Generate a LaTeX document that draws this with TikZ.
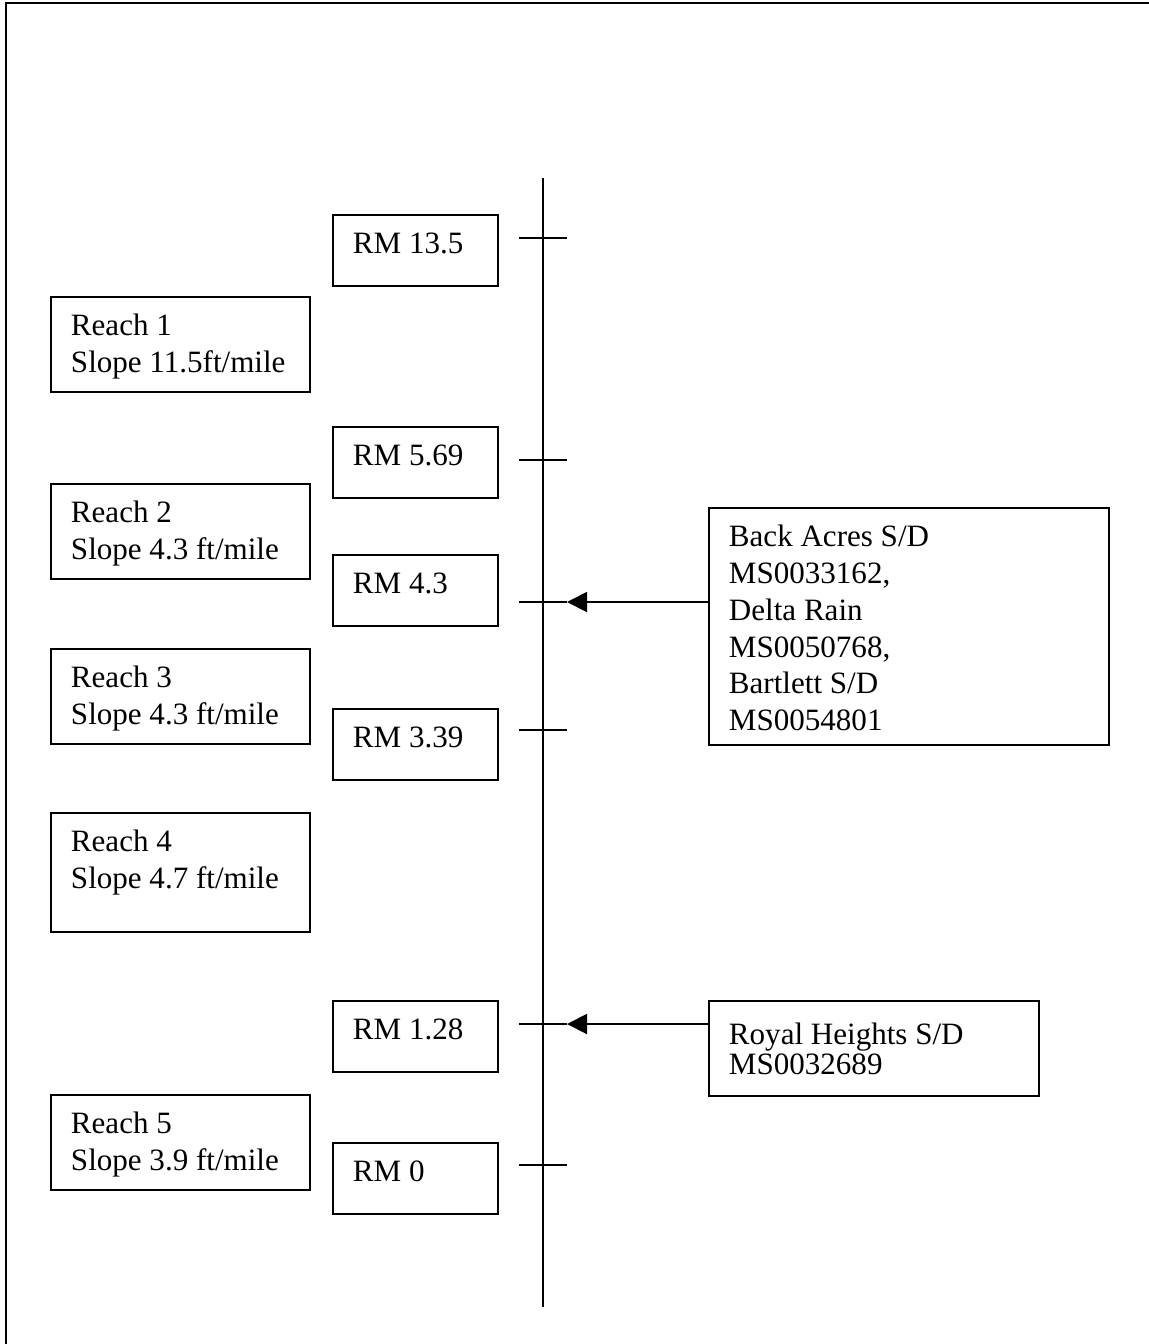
\documentclass[tikz,border=0pt]{standalone}
\usepackage{fontspec}
\setmainfont{Liberation Serif}
\usetikzlibrary{arrows.meta}

\begin{document}
\begin{tikzpicture}[x=0.38pt,y=-0.38pt,
  every node/.style={font=\fontsize{11.8pt}{13.95pt}\selectfont},
  box/.style={draw,line width=0.75pt,anchor=north west,align=flush left,inner ysep=0pt,inner xsep=7.6pt,text height=14.8pt},
  rmbox/.style={box,text width=47.5pt,text depth=12.2pt},
  reachbox/.style={box,text width=83.2pt,text depth=21.3pt},
  feed/.style={line width=0.75pt,-{Triangle[length=7.6pt,width=7.6pt]}},
  tick/.style={line width=0.75pt}]
\useasboundingbox (0,0) rectangle (1149,1344);
\draw[line width=0.9pt] (6,1344) -- (6,3) -- (1149,3);

% the stream
\coordinate (top) at (543,178);
\coordinate (bot) at (543,1307);
\draw[line width=0.6pt] (top) -- (bot);

\coordinate (t135) at (567,238);
\coordinate (t569) at (567,460);
\coordinate (t43) at (567,602);
\coordinate (t339) at (567,730);
\coordinate (t128) at (567,1024);
\coordinate (t0) at (567,1165);
\draw[tick] (519,238) -- (t135);
\draw[tick] (519,460) -- (t569);
\draw[tick] (519,602) -- (t43);
\draw[tick] (519,730) -- (t339);
\draw[tick] (519,1024) -- (t128);
\draw[tick] (519,1165) -- (t0);

\node[rmbox] (rm135) at (332,214) {RM 13.5};
\node[rmbox] (rm569) at (332,426) {RM 5.69};
\node[rmbox] (rm43) at (332,554) {RM 4.3};
\node[rmbox] (rm339) at (332,708) {RM 3.39};
\node[rmbox] (rm128) at (332,1000) {RM 1.28};
\node[rmbox] (rm0) at (332,1142) {RM 0};

\node[reachbox] (reach1) at (50,296) {Reach 1\\Slope 11.5ft/mile};
\node[reachbox] (reach2) at (50,483) {Reach 2\\Slope 4.3 ft/mile};
\node[reachbox] (reach3) at (50,648) {Reach 3\\Slope 4.3 ft/mile};
\node[reachbox,text depth=30.4pt] (reach4) at (50,812) {Reach 4\\Slope 4.7 ft/mile};
\node[reachbox] (reach5) at (50,1094) {Reach 5\\Slope 3.9 ft/mile};

% discharges
\node[box,text width=136.8pt,text depth=75.2pt] (back) at (708,507)
  {Back Acres S/D\\MS0033162,\\Delta Rain\\MS0050768,\\Bartlett S/D\\MS0054801};
\node[box,text width=110.2pt,text height=16.7pt,text depth=19.4pt,
  font=\fontsize{11.8pt}{11.4pt}\selectfont] (royal) at (708,1000)
  {Royal Heights S/D\\MS0032689};

\draw[feed] (back.west |- t43) -- (t43);
\draw[feed] (royal.west |- t128) -- (t128);
\end{tikzpicture}
\end{document}
